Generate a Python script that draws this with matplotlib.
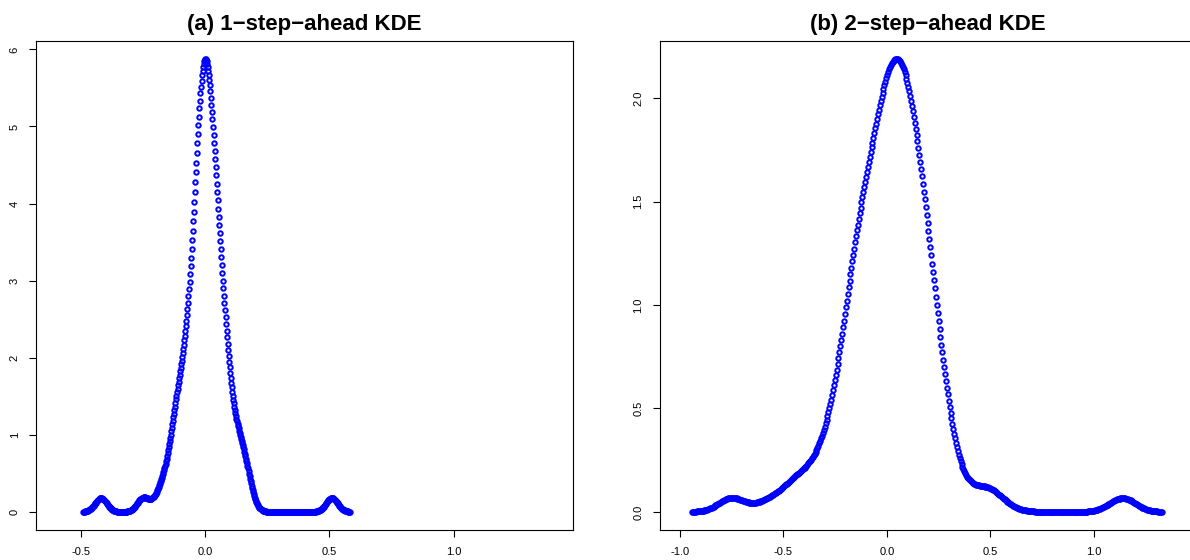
import numpy as np
import matplotlib.pyplot as plt

plt.rcParams['font.family'] = ['Liberation Sans', 'DejaVu Sans']
plt.rcParams['axes.unicode_minus'] = False

# (a) 1-step-ahead forecast errors: binned values and how many fall in each
errors_a = [-0.42, -0.25,
            -0.20, -0.19, -0.18, -0.17, -0.16, -0.15, -0.14, -0.13, -0.12, -0.11,
            -0.10, -0.09, -0.08, -0.07, -0.06, -0.05, -0.04, -0.03, -0.02, -0.01,
            0.00, 0.01, 0.02, 0.03, 0.04, 0.05, 0.06, 0.07, 0.08, 0.09,
            0.10, 0.11, 0.12, 0.13, 0.14, 0.15, 0.16, 0.17, 0.18, 0.19,
            0.51]
counts_a = [1, 1,
            0.27, 0.30, 0.34, 0.42, 0.45, 0.55, 0.78, 1.18, 1.40, 1.58,
            1.73, 1.95, 2.08, 2.05, 2.20, 3.30, 4.20, 4.70, 5.20, 6.10,
            7.10, 6.00, 5.30, 4.50, 4.30, 3.90, 3.25, 2.70, 2.40, 1.90,
            1.55, 1.10, 0.95, 1.00, 1.00, 0.92, 0.80, 0.72, 0.30, 0.12,
            1]
bw_a = 0.024

# (b) 2-step-ahead forecast errors
errors_b = [-0.75,
            -0.60, -0.55, -0.50, -0.45, -0.40, -0.35, -0.30, -0.25, -0.20, -0.15,
            -0.10, -0.05, 0.00, 0.05, 0.10, 0.15, 0.20, 0.25, 0.30, 0.35,
            0.40, 0.45, 0.50, 0.55, 0.60, 0.65,
            1.14]
counts_b = [1,
            0.32, 0.37, 0.40, 0.95, 1.06, 0.85, 1.80, 2.43, 4.04, 7.70,
            7.29, 8.73, 10.96, 11.30, 10.72, 8.78, 6.80, 4.34, 1.71, 0.70,
            0.25, 0.70, 0.85, 0.30, 0.05, 0.01,
            1]
bw_b = 0.063

titles = ['(a) 1\u2212step\u2212ahead KDE', '(b) 2\u2212step\u2212ahead KDE']
xlims = [(-0.6, 1.4), (-1.0, 1.4)]
xticks = [[-0.5, 0.0, 0.5, 1.0], [-1.0, -0.5, 0.0, 0.5, 1.0]]
yticks = [[0, 1, 2, 3, 4, 5, 6], [0.0, 0.5, 1.0, 1.5, 2.0]]
yfmt = ['{:.0f}', '{:.1f}']


def kde(values, counts, bw, n=512):
    values = np.asarray(values)
    counts = np.asarray(counts)
    grid = np.linspace(values.min() - 3 * bw, values.max() + 3 * bw, n)
    z = (grid[:, None] - values[None, :]) / bw
    dens = (np.exp(-0.5 * z ** 2) * counts).sum(axis=1)
    dens /= counts.sum() * bw * np.sqrt(2 * np.pi)
    return grid, dens


fig = plt.figure(figsize=(11.9, 5.6), dpi=100)
lefts = [36.4 / 1190, 660 / 1190]
data = [(errors_a, counts_a, bw_a), (errors_b, counts_b, bw_b)]

for i in range(2):
    ax = fig.add_axes([lefts[i], 30 / 560, 536.3 / 1190, 489.3 / 560])
    x, y = kde(*data[i])
    ax.plot(x, y, 'o', mfc='none', mec='blue', ms=3.2, mew=1.4)
    lo, hi = xlims[i]
    ax.set_xlim(lo - 0.04 * (hi - lo), hi + 0.04 * (hi - lo))
    ax.set_ylim(-0.04 * y.max(), 1.04 * y.max())
    ax.set_xticks(xticks[i])
    ax.set_xticklabels(['{:.1f}'.format(t) for t in xticks[i]])
    ax.set_yticks(yticks[i])
    ax.set_yticklabels([yfmt[i].format(t) for t in yticks[i]], rotation=90, va='center')
    ax.tick_params(length=5, width=0.8, labelsize=8, pad=7)
    for s in ax.spines.values():
        s.set_linewidth(0.8)
    ax.set_title(titles[i], fontsize=16, fontweight='bold', pad=8)

fig.savefig('out.png', dpi=100)
